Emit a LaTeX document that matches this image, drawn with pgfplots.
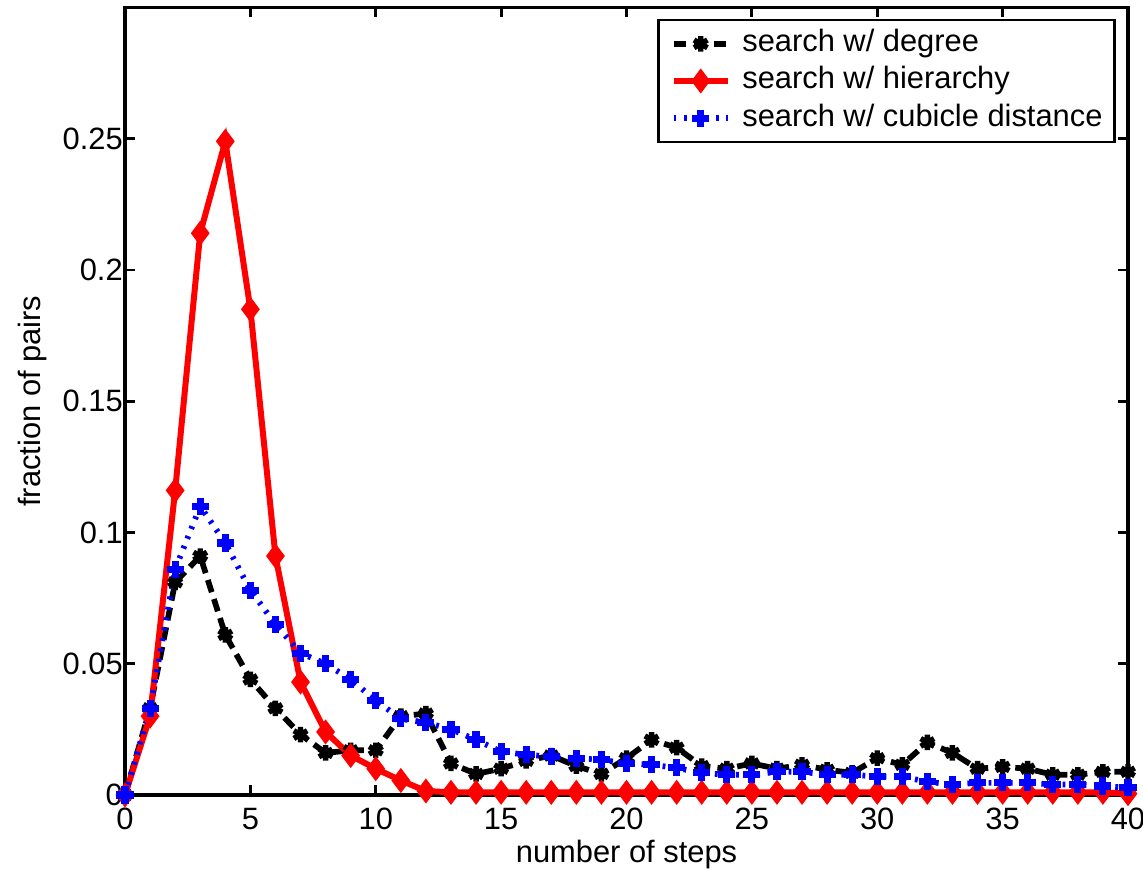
\documentclass[border=0pt]{standalone}
\usepackage{fontspec}
\setmainfont{Liberation Sans}
\usepackage{pgfplots}
\usepackage{pgfplotstable}
\pgfplotsset{compat=1.18}
\definecolor{mred}{HTML}{FF0000}
\definecolor{mblue}{HTML}{0000FF}

% fraction of pairs against number of steps
\pgfplotstableread{
x y
0 0
1 0.033
2 0.081
3 0.091
4 0.061
5 0.044
6 0.033
7 0.023
8 0.016
9 0.017
10 0.017
11 0.030
12 0.031
13 0.012
14 0.008
15 0.010
16 0.013
17 0.015
18 0.011
19 0.008
20 0.014
21 0.021
22 0.018
23 0.011
24 0.010
25 0.012
26 0.010
27 0.0115
28 0.0096
29 0.0084
30 0.014
31 0.0115
32 0.020
33 0.016
34 0.010
35 0.0107
36 0.010
37 0.0077
38 0.0077
39 0.0088
40 0.0088
}\degreetab

\pgfplotstableread{
x y
0 0
1 0.030
2 0.116
3 0.214
4 0.249
5 0.185
6 0.091
7 0.043
8 0.024
9 0.015
10 0.010
11 0.0055
12 0.0015
13 0.001
14 0.001
15 0.001
16 0.001
17 0.001
18 0.001
19 0.001
20 0.001
21 0.001
22 0.001
23 0.001
24 0.001
25 0.001
26 0.001
27 0.001
28 0.001
29 0.001
30 0.001
31 0.001
32 0.001
33 0.001
34 0.001
35 0.001
36 0.001
37 0.001
38 0.001
39 0.001
40 0.0005
}\hiertab

\pgfplotstableread{
x y
0 0
1 0.033
2 0.086
3 0.110
4 0.096
5 0.078
6 0.065
7 0.054
8 0.050
9 0.044
10 0.036
11 0.029
12 0.0276
13 0.025
14 0.021
15 0.0165
16 0.0153
17 0.0146
18 0.014
19 0.0134
20 0.012
21 0.0115
22 0.0103
23 0.0084
24 0.0077
25 0.0077
26 0.0088
27 0.0088
28 0.0077
29 0.0077
30 0.007
31 0.007
32 0.005
33 0.004
34 0.0046
35 0.0046
36 0.0046
37 0.004
38 0.004
39 0.0034
40 0.0027
}\cubetab

\begin{document}
\begin{tikzpicture}
  \useasboundingbox (-43.75pt,-26.6pt) rectangle (356.25pt,278.2pt);
  \begin{axis}[
      at={(0,0)}, anchor=south west,
      scale only axis,
      width=351.0pt, height=275.6pt,
      xmin=0, xmax=40, ymin=0, ymax=0.3,
      xtick={0,5,...,40},
      ytick={0,0.05,0.1,0.15,0.2,0.25},
      yticklabels={0,0.05,0.1,0.15,0.2,0.25},
      scaled ticks=false,
      /pgf/number format/assume math mode=true,
      tick align=inside,
      xtick pos=both, ytick pos=both,
      major tick length=3.5pt,
      axis line style={line width=1.1pt},
      every tick/.style={black, line width=1pt},
      tick label style={font=\fontsize{10.8}{13}\selectfont},
      yticklabel style={inner xsep=0.6pt},
      xticklabel style={inner ysep=4.4pt},
      label style={font=\fontsize{10.8}{13}\selectfont},
      xlabel={number of steps},
      ylabel={fraction of pairs},
      xlabel style={at={(axis description cs:0.5,0)}, anchor=base, yshift=-23.6pt},
      ylabel style={at={(axis description cs:-0.0847,0.5)}, anchor=base, rotate=0},
      clip=false,
      legend cell align=left,
      legend image code/.code={%
        \draw[mark repeat=2, mark phase=2] plot coordinates {(0pt,0pt) (9.5pt,0pt) (19pt,0pt)};},
      legend style={
        at={(rel axis cs:1,1)}, anchor=north east,
        xshift=-4.2pt, yshift=-3.9pt,
        draw=black, line width=1pt,
        inner xsep=4.2pt, inner ysep=3.3pt,
        font=\fontsize{10.8}{13}\selectfont,
        nodes={inner sep=0pt, text height=7.8pt, text depth=2.3pt},
        row sep=2.9pt,
        /tikz/every odd column/.append style={column sep=4pt},
      },
    ]
    \addplot[black, line width=2pt, dash pattern=on 4.5pt off 2.5pt,
      mark=asterisk, mark size=2.7pt,
      mark options={solid, line width=1.9pt}] table {\degreetab};
    \addlegendentry{search w/ degree}
    \addplot[mred, line width=2.1pt,
      mark=diamond*, mark size=3.4pt,
      mark options={solid, fill=mred, line width=1.2pt}] table {\hiertab};
    \addlegendentry{search w/ hierarchy}
    \addplot[mblue, line width=2pt, dash pattern=on 1pt off 2.7pt,
      mark=+, mark size=3pt,
      mark options={solid, line width=2.5pt}] table {\cubetab};
    \addlegendentry{search w/ cubicle distance}
  \end{axis}
\end{tikzpicture}
\end{document}
